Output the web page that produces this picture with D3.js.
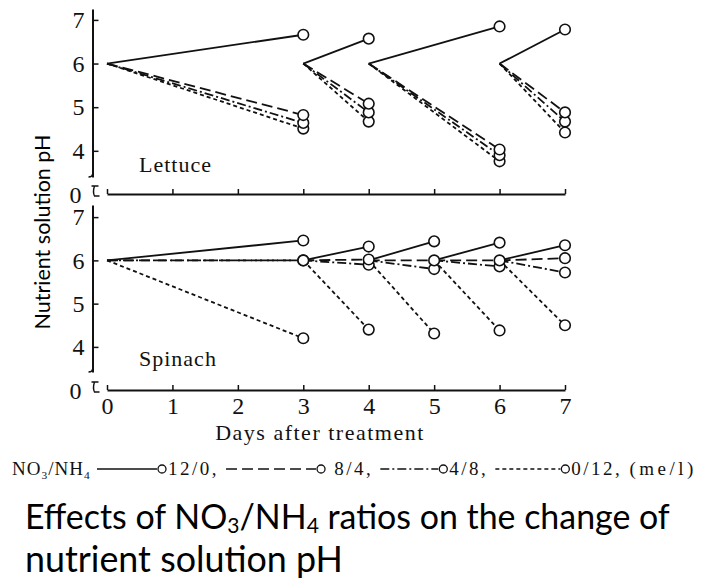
<!DOCTYPE html>
<html>
<head>
<meta charset="utf-8">
<script src="https://cdn.jsdelivr.net/npm/d3@7"></script>
<style>
  body { margin: 0; background: #fff; }
</style>
</head>
<body>
<div id="chart"></div>
<script>
/* data */
const days = [0, 1, 2, 3, 4, 5, 6, 7];
const yTicks = [4, 5, 6, 7];
const series = ["12/0", "8/4", "4/8", "0/12"];
const startPH = 6.0;   // solution renewed at pH 6 at the start of every period

// lettuce: renewal periods and the pH at the end of each period (one row per series)
const lettuceSegments = [[0, 3], [3, 4], [4, 6], [6, 7]];
const lettucePH = [
  [6.66, 6.57, 6.85, 6.78],   // 12/0
  [4.82, 5.08, 4.03, 4.88],   // 8/4
  [4.64, 4.88, 3.90, 4.67],   // 4/8
  [4.51, 4.67, 3.76, 4.42]    // 0/12
];

// spinach
const spinachSegments = [[0, 3], [3, 4], [4, 5], [5, 6], [6, 7]];
const spinachPH = [
  [6.46, 6.32, 6.44, 6.41, 6.35],   // 12/0
  [6.00, 6.02, 6.00, 6.00, 6.05],   // 8/4
  [6.00, 5.90, 5.80, 5.86, 5.72],   // 4/8
  [4.20, 4.40, 4.31, 4.38, 4.50]    // 0/12
];

/* styles */
const dashes = [null, "11,5", "9,3,2,3", "4,3"];
const ink = "#111";
const serif = "'Liberation Serif', 'Times New Roman', serif";
const sans = "Lato, 'Open Sans', sans-serif";

const svg = d3.select("#chart")
  .append("svg")
  .attr("width", 704)
  .attr("height", 580);

const axisX = 92.5;
const x = d3.scaleLinear().domain([0, 7]).range([107, 565]);

const panels = [
  { name: "Lettuce", segs: lettuceSegments, ph: lettucePH, base: 194, labelY: 172, showX: false,
    y: d3.scaleLinear().domain([3.4, 7.25]).range([177, 9]) },
  { name: "Spinach", segs: spinachSegments, ph: spinachPH, base: 390, labelY: 366, showX: true,
    y: d3.scaleLinear().domain([3.42, 7.28]).range([372, 205]) }
];

panels.forEach(function(p) {
  const y = p.y;

  // y axis, ticks pointing into the plot
  const gy = svg.append("g")
    .attr("transform", `translate(${axisX},0)`)
    .call(d3.axisLeft(y).tickValues(yTicks).tickSizeInner(-6).tickSizeOuter(0)
            .tickPadding(8).tickFormat(d3.format("d")));
  gy.select(".domain").attr("stroke", ink).attr("stroke-width", 2);
  gy.selectAll(".tick line").attr("stroke", ink).attr("stroke-width", 1.5);
  gy.selectAll("text").attr("font-family", serif).attr("font-size", 24).attr("fill", ink);

  // small hook at the bottom end of the broken y axis
  const yEnd = y.range()[0];
  svg.append("path")
    .attr("d", `M${axisX},${yEnd - 3} Q${axisX},${yEnd} ${axisX - 4},${yEnd}`)
    .attr("fill", "none").attr("stroke", ink).attr("stroke-width", 1.5);

  // zero label and break mark
  svg.append("text")
    .attr("x", axisX - 11).attr("y", p.base + 1).attr("dy", "0.32em")
    .attr("text-anchor", "end")
    .attr("font-family", serif).attr("font-size", 24).attr("fill", ink)
    .text("0");
  svg.append("path")
    .attr("d", `M${axisX - 1},${p.base - 8} h7 M${axisX + 2},${p.base - 8} Q${axisX},${p.base - 2} ${axisX + 2},${p.base + 2} h5`)
    .attr("fill", "none").attr("stroke", ink).attr("stroke-width", 1.4);

  // x axis, ticks pointing up
  const gx = svg.append("g")
    .attr("transform", `translate(0,${p.base})`)
    .call(d3.axisBottom(x).tickValues(days).tickSizeInner(-5).tickSizeOuter(0)
            .tickPadding(7).tickFormat(p.showX ? d3.format("d") : ""));
  gx.select(".domain").attr("stroke", ink).attr("stroke-width", 2);
  gx.selectAll(".tick line").attr("stroke", ink).attr("stroke-width", 1.5);
  gx.selectAll("text").attr("font-family", serif).attr("font-size", 24).attr("fill", ink);

  // crop label
  svg.append("text")
    .attr("x", 139).attr("y", p.labelY)
    .attr("font-family", serif).attr("font-size", 22).attr("letter-spacing", 1)
    .attr("fill", ink)
    .text(p.name);

  // one line per series and renewal period, drawn from pH 6 at the period start
  const line = d3.line().x(d => x(d[0])).y(d => y(d[1]));
  const pts = [];
  for (let s = series.length - 1; s >= 0; s--) {
    p.segs.forEach(function(seg, i) {
      const v = p.ph[s][i];
      svg.append("path")
        .attr("d", line([[seg[0], startPH], [seg[1], v]]))
        .attr("fill", "none")
        .attr("stroke", ink)
        .attr("stroke-width", 1.8)
        .attr("stroke-dasharray", dashes[s]);
      pts.push([seg[1], v]);
    });
  }
  svg.selectAll(null)
    .data(pts)
    .enter()
    .append("circle")
    .attr("cx", d => x(d[0]))
    .attr("cy", d => y(d[1]))
    .attr("r", 5.3)
    .attr("fill", "#fff")
    .attr("stroke", ink)
    .attr("stroke-width", 1.6);
});

// x axis title
svg.append("text")
  .attr("x", 320).attr("y", 440)
  .attr("text-anchor", "middle")
  .attr("font-family", serif).attr("font-size", 22).attr("letter-spacing", 1.5)
  .attr("fill", ink)
  .text("Days after treatment");

// y axis title
const yTitle = svg.append("text")
  .attr("transform", "translate(50,232) rotate(-90)")
  .attr("text-anchor", "middle")
  .attr("font-family", sans).attr("font-size", 22)
  .attr("fill", "#000")
  .text("Nutrient solution pH");
yTitle.attr("font-size", 22 * 195 / yTitle.node().getComputedTextLength());

/* legend row */
const legY = 475;
const legend = svg.append("g")
  .attr("font-family", serif).attr("font-size", 19).attr("fill", ink);
const head = legend.append("text").attr("x", 12).attr("y", legY).attr("letter-spacing", 1);
head.append("tspan").text("NO");
head.append("tspan").attr("font-size", "60%").attr("dy", 4).text("3");
head.append("tspan").attr("dy", -4).text("/NH");
head.append("tspan").attr("font-size", "60%").attr("dy", 4).text("4");

const legLines = [60, 90, 58, 65];
const legLabels = ["12/0,", " 8/4,", "4/8,", "0/12,"];
let cx = 97;
series.forEach(function(s, i) {
  legend.append("line")
    .attr("x1", cx).attr("x2", cx + legLines[i])
    .attr("y1", legY - 6).attr("y2", legY - 6)
    .attr("stroke", ink).attr("stroke-width", 1.5)
    .attr("stroke-dasharray", dashes[i]);
  cx += legLines[i];
  legend.append("circle")
    .attr("cx", cx + 5).attr("cy", legY - 6).attr("r", 4)
    .attr("fill", "#fff").attr("stroke", ink).attr("stroke-width", 1.3);
  cx += 11;
  const t = legend.append("text")
    .attr("x", cx).attr("y", legY).attr("letter-spacing", 2.5)
    .attr("xml:space", "preserve")
    .text(legLabels[i]);
  cx += t.node().getComputedTextLength() + 7;
});
legend.append("text")
  .attr("x", cx).attr("y", legY).attr("letter-spacing", 3.5)
  .text("(me/l)");

/* caption */
const cap = svg.append("g").attr("font-family", sans).attr("fill", "#000");
const c1 = cap.append("text").attr("x", 25).attr("y", 529).attr("font-size", 32);
c1.append("tspan").text("Effects of NO");
c1.append("tspan").attr("font-size", "62%").attr("dy", 4).text("3");
c1.append("tspan").attr("dy", -4).text("/NH");
c1.append("tspan").attr("font-size", "62%").attr("dy", 4).text("4");
c1.append("tspan").attr("dy", -4).text(" ratios on the change of");
const fs1 = 32 * 645 / c1.node().getComputedTextLength();
c1.attr("font-size", fs1);
const c2 = cap.append("text").attr("x", 25).attr("y", 572).attr("font-size", 32)
  .text("nutrient solution pH");
const fs2 = 32 * 335 / c2.node().getComputedTextLength();
c2.attr("font-size", (fs1 + fs2) / 2);
</script>
</body>
</html>
